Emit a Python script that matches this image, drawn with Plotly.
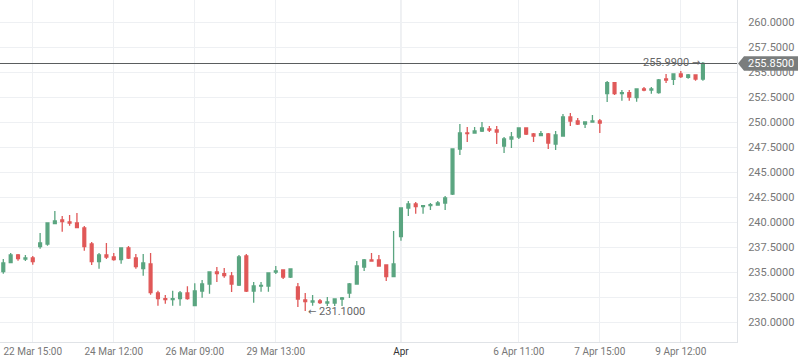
import plotly.graph_objects as go

# ---- data ----
opens = [235.03, 235.93, 236.7, 236.3, 236.4, 237.53, 237.8, 239.83, 240.2, 240.0,
         239.9, 239.4, 237.8, 236.03, 236.7, 236.5, 236.23, 237.4, 236.4, 235.33,
         235.8, 232.9, 232.33, 232.25, 232.33, 232.9, 231.63, 233.1, 233.8, 235.0,
         234.83, 234.6, 233.7, 236.6, 233.1, 233.6, 233.6, 235.0, 235.2, 234.5,
         233.5, 232.2, 232.0, 232.1, 231.9, 231.9, 232.3, 232.9, 233.8, 235.5,
         236.2, 236.2, 235.7, 234.53, 238.53, 241.4, 241.8, 241.53, 241.63, 241.7,
         241.9, 242.8, 247.3, 248.9, 248.9, 249.1, 249.3, 249.2, 247.6, 248.3,
         248.5, 249.4, 248.8, 248.63, 248.8, 247.8, 248.6, 250.5, 250.1, 249.8,
         250.0, 250.1, 252.83, 253.93, 252.83, 252.93, 252.43, 253.3, 253.2, 252.93,
         254.3, 254.27, 254.8, 254.47, 254.7, 254.3]
highs = [236.3, 236.9, 236.8, 236.7, 236.6, 238.9, 239.9, 241.1, 240.6, 240.7,
         240.9, 239.6, 238.0, 236.9, 237.9, 236.9, 237.4, 237.6, 236.8, 236.8,
         236.9, 233.13, 232.7, 233.13, 233.1, 233.57, 233.87, 234.2, 235.0, 235.5,
         235.4, 235.0, 236.7, 236.8, 234.0, 234.0, 234.9, 235.6, 235.2, 235.3,
         233.9, 232.9, 232.7, 232.3, 232.5, 232.3, 232.5, 233.9, 236.1, 236.3,
         236.9, 236.7, 235.7, 239.1, 241.4, 242.1, 242.0, 241.63, 241.9, 242.1,
         242.6, 247.3, 249.8, 249.5, 249.5, 250.0, 249.6, 249.6, 248.5, 249.0,
         249.4, 249.4, 248.9, 249.1, 248.9, 249.1, 250.8, 250.9, 250.4, 250.0,
         250.7, 250.3, 254.1, 254.0, 253.2, 253.2, 253.3, 253.5, 253.5, 254.3,
         254.8, 254.8, 255.1, 254.8, 254.77, 255.99]
lows = [234.83, 235.93, 236.13, 236.1, 235.73, 237.33, 237.63, 239.83, 239.03, 239.63,
        239.43, 237.13, 235.7, 235.33, 236.3, 236.13, 235.83, 236.3, 235.33, 234.63,
        232.73, 231.63, 231.83, 231.63, 231.63, 232.23, 231.63, 232.43, 232.83, 234.0,
        234.43, 233.0, 233.6, 233.0, 231.93, 233.03, 233.03, 234.8, 234.3, 234.4,
        231.5, 231.1, 231.63, 231.8, 231.6, 231.6, 231.6, 232.4, 233.8, 235.1,
        236.1, 235.6, 234.1, 234.53, 238.13, 240.6, 240.83, 240.83, 241.2, 241.7,
        241.2, 242.7, 246.7, 248.0, 248.9, 249.0, 249.0, 247.8, 246.9, 247.4,
        248.3, 248.7, 248.0, 248.57, 247.3, 247.2, 248.6, 249.6, 249.7, 249.4,
        250.0, 248.9, 252.0, 252.7, 252.13, 252.13, 252.03, 253.07, 252.83, 252.83,
        253.9, 253.7, 254.4, 254.33, 254.13, 254.13]
closes = [235.9, 236.7, 236.33, 236.4, 236.03, 237.9, 239.9, 240.1, 240.03, 239.9,
          239.43, 237.53, 236.03, 236.7, 236.5, 236.23, 237.4, 236.4, 235.53, 235.9,
          232.93, 232.33, 232.25, 232.33, 232.9, 232.33, 233.1, 233.8, 235.0, 234.83,
          234.63, 233.8, 236.5, 233.1, 233.6, 233.66, 234.9, 235.1, 234.5, 235.3,
          232.3, 232.03, 232.1, 231.93, 232.0, 232.3, 232.4, 233.8, 235.6, 236.2,
          236.1, 235.6, 234.53, 235.8, 241.4, 241.8, 241.53, 241.63, 241.73, 241.9,
          242.4, 247.3, 248.9, 248.83, 249.1, 249.4, 249.2, 249.0, 248.3, 248.5,
          249.4, 248.8, 248.6, 248.83, 247.9, 248.7, 250.5, 250.1, 249.8, 250.0,
          250.1, 249.9, 253.93, 252.83, 252.93, 252.5, 253.3, 253.2, 253.3, 254.2,
          254.2, 254.8, 254.53, 254.7, 254.3, 255.85]
x_idx = list(range(len(opens)))

tick_idx = [4, 15, 26, 37, 54, 70, 81, 92]
tick_labels = ["22 Mar 15:00", "24 Mar 12:00", "26 Mar 09:00", "29 Mar 13:00",
               "Apr", "6 Apr 11:00", "7 Apr 15:00", "9 Apr 12:00"]
month_tick = "Apr"

y_ticks = [230 + 2.5 * i for i in range(13)]
last_price = 255.85
max_price = max(highs)
min_price = min(lows)

# ---- figure ----
GREEN = "#5aa580"
RED = "#e05858"
Y0, Y1 = 228.0, 262.2

fig = go.Figure()
fig.add_trace(go.Candlestick(
    x=x_idx, open=opens, high=highs, low=lows, close=closes,
    increasing=dict(line=dict(color=GREEN, width=1.3), fillcolor=GREEN),
    decreasing=dict(line=dict(color=RED, width=1.3), fillcolor=RED),
    whiskerwidth=0, hoverinfo="skip", showlegend=False,
))

ttext = [("<span style='color:#333'>%s</span>" % t) if t == month_tick else t
         for t in tick_labels]

fig.update_layout(
    width=798, height=363,
    margin=dict(l=0, r=61, t=0, b=21),
    paper_bgcolor="white", plot_bgcolor="white",
    boxgap=0.45,
    font=dict(family="Roboto", size=11, color="#777"),
    xaxis=dict(
        range=[-0.448, 99.63], rangeslider=dict(visible=False),
        tickmode="array", tickvals=tick_idx, ticktext=ttext,
        showgrid=True, gridcolor="#eef0f3", gridwidth=1,
        showline=True, linecolor="#e0e3e7", linewidth=1,
        ticks="", zeroline=False, tickfont=dict(size=10, color="#777"),
    ),
    yaxis=dict(
        range=[Y0, Y1], side="right",
        tickmode="array", tickvals=y_ticks,
        tickformat=".4f",
        showgrid=True, gridcolor="#eef0f3", gridwidth=1,
        showline=True, linecolor="#e0e3e7", linewidth=1,
        ticks="", ticklabelstandoff=8, zeroline=False,
        tickfont=dict(size=11, color="#777"),
    ),
)

# darker month-boundary gridline
fig.add_shape(type="line", xref="x", yref="paper",
              x0=tick_idx[tick_labels.index(month_tick)],
              x1=tick_idx[tick_labels.index(month_tick)],
              y0=0, y1=1, line=dict(color="#dfe2e6", width=1), layer="below")

# last price line
fig.add_shape(type="line", xref="paper", yref="y", x0=0, x1=1,
              y0=last_price, y1=last_price, line=dict(color="#5a5d5e", width=1),
              layer="above")


def yp(v):
    return (v - Y0) / (Y1 - Y0)


px = 1.0 / 737.0
top, bot, mid = yp(last_price + 0.73), yp(last_price - 0.73), yp(last_price)
path = ("M {a},{m} L {b},{t} L {c},{t} L {c},{bt} L {b},{bt} Z"
        .format(a=1 + 1 * px, b=1 + 7 * px, c=1 + 61 * px, t=top, bt=bot, m=mid))
fig.add_shape(type="path", xref="paper", yref="paper", path=path,
              fillcolor="#7a7d7d", line=dict(width=0), layer="above")
fig.add_annotation(xref="paper", yref="y", x=1 + 34 * px, y=last_price,
                   text="%.4f" % last_price, showarrow=False,
                   font=dict(color="white", size=11, family="Roboto"),
                   xanchor="center", yanchor="middle")

# max / min annotations
i_max = highs.index(max_price)
i_min = lows.index(min_price)
ARROW = "<span style='font-family:DejaVu Sans;font-size:10px'>%s</span>"
fig.add_annotation(x=i_max, y=max_price, text="%.4f %s" % (max_price, ARROW % "→"),
                   showarrow=False, xanchor="right", yanchor="middle", xshift=-1,
                   font=dict(color="#666", size=11, family="Roboto"))
fig.add_annotation(x=i_min, y=min_price, text="%s %.4f" % (ARROW % "←", min_price),
                   showarrow=False, xanchor="left", yanchor="middle", xshift=1,
                   font=dict(color="#666", size=11, family="Roboto"))

fig.write_html("out.html", config={"displayModeBar": False},
               post_script="document.body.style.margin='0';document.body.style.overflow='hidden';")
